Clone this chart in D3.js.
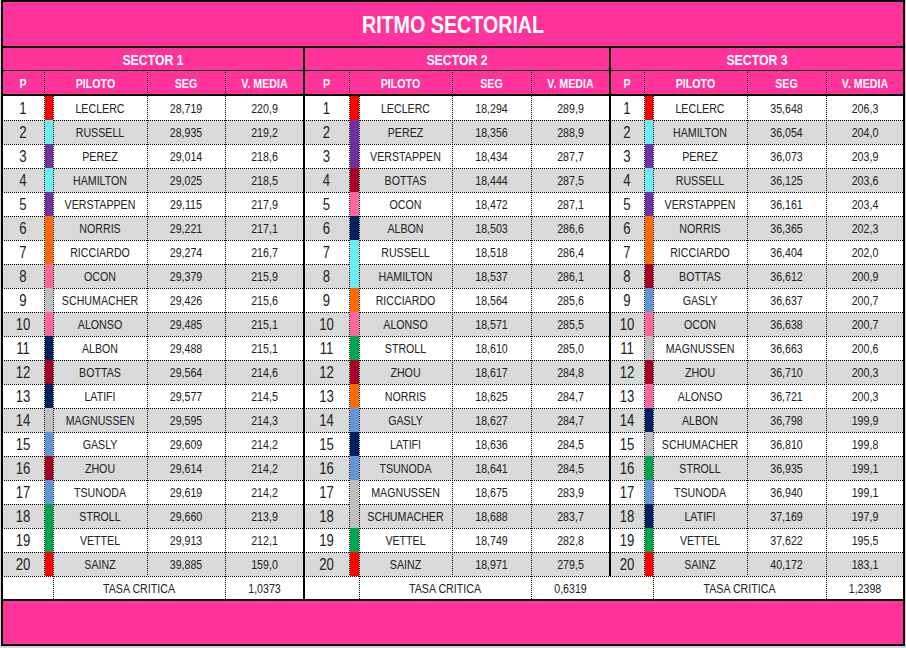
<!DOCTYPE html>
<html>
<head>
<meta charset="utf-8">
<script src="https://cdn.jsdelivr.net/npm/d3@7"></script>
<style>
  body { margin: 0; background: #d4d4d4; }
  svg { display: block; font-family: "Liberation Sans", Arial, sans-serif; }
</style>
</head>
<body>
<script>
const title = "RITMO SECTORIAL";
const sectors = ["SECTOR 1", "SECTOR 2", "SECTOR 3"];
const headers = ["P", "PILOTO", "SEG", "V. MEDIA"];
const tasaLabel = "TASA CRITICA";

const s1Drivers = ["LECLERC", "RUSSELL", "PEREZ", "HAMILTON", "VERSTAPPEN", "NORRIS", "RICCIARDO", "OCON", "SCHUMACHER", "ALONSO",
  "ALBON", "BOTTAS", "LATIFI", "MAGNUSSEN", "GASLY", "ZHOU", "TSUNODA", "STROLL", "VETTEL", "SAINZ"];
const s1Times = [28.719, 28.935, 29.014, 29.025, 29.115, 29.221, 29.274, 29.379, 29.426, 29.485,
  29.488, 29.564, 29.577, 29.595, 29.609, 29.614, 29.619, 29.660, 29.913, 39.885];
const s1Speeds = [220.9, 219.2, 218.6, 218.5, 217.9, 217.1, 216.7, 215.9, 215.6, 215.1,
  215.1, 214.6, 214.5, 214.3, 214.2, 214.2, 214.2, 213.9, 212.1, 159.0];

const s2Drivers = ["LECLERC", "PEREZ", "VERSTAPPEN", "BOTTAS", "OCON", "ALBON", "RUSSELL", "HAMILTON", "RICCIARDO", "ALONSO",
  "STROLL", "ZHOU", "NORRIS", "GASLY", "LATIFI", "TSUNODA", "MAGNUSSEN", "SCHUMACHER", "VETTEL", "SAINZ"];
const s2Times = [18.294, 18.356, 18.434, 18.444, 18.472, 18.503, 18.518, 18.537, 18.564, 18.571,
  18.610, 18.617, 18.625, 18.627, 18.636, 18.641, 18.675, 18.688, 18.749, 18.971];
const s2Speeds = [289.9, 288.9, 287.7, 287.5, 287.1, 286.6, 286.4, 286.1, 285.6, 285.5,
  285.0, 284.8, 284.7, 284.7, 284.5, 284.5, 283.9, 283.7, 282.8, 279.5];

const s3Drivers = ["LECLERC", "HAMILTON", "PEREZ", "RUSSELL", "VERSTAPPEN", "NORRIS", "RICCIARDO", "BOTTAS", "GASLY", "OCON",
  "MAGNUSSEN", "ZHOU", "ALONSO", "ALBON", "SCHUMACHER", "STROLL", "TSUNODA", "LATIFI", "VETTEL", "SAINZ"];
const s3Times = [35.648, 36.054, 36.073, 36.125, 36.161, 36.365, 36.404, 36.612, 36.637, 36.638,
  36.663, 36.710, 36.721, 36.798, 36.810, 36.935, 36.940, 37.169, 37.622, 40.172];
const s3Speeds = [206.3, 204.0, 203.9, 203.6, 203.4, 202.3, 202.0, 200.9, 200.7, 200.7,
  200.6, 200.3, 200.3, 199.9, 199.8, 199.1, 199.1, 197.9, 195.5, 183.1];

const tasaCritica = [1.0373, 0.6319, 1.2398];

const driverNames = ["LECLERC", "SAINZ", "RUSSELL", "HAMILTON", "PEREZ", "VERSTAPPEN", "NORRIS", "RICCIARDO", "OCON", "ALONSO",
  "SCHUMACHER", "MAGNUSSEN", "ALBON", "LATIFI", "BOTTAS", "ZHOU", "GASLY", "TSUNODA", "STROLL", "VETTEL"];
const driverColors = ["#ff0000", "#ff0000", "#66eef2", "#66eef2", "#7030a0", "#7030a0", "#ff6a00", "#ff6a00", "#ff6699", "#ff6699",
  "#bfbfbf", "#bfbfbf", "#002060", "#002060", "#a50027", "#a50027", "#5f97d6", "#5f97d6", "#00a550", "#00a550"];

const sectionData = [
  { drivers: s1Drivers, times: s1Times, speeds: s1Speeds },
  { drivers: s2Drivers, times: s2Times, speeds: s2Speeds },
  { drivers: s3Drivers, times: s3Times, speeds: s3Speeds }
];

// layout
const W = 906, H = 648;
const PINK = "#ff3399", GRAY = "#d9d9d9", TEXT = "#222";
const NARROW = 0.82; // squeeze Liberation Sans to look like Arial Narrow
const left = 2, right = 904;
// column edges per section: start, bar start, bar end, piloto end, seg end, end
const colEdges = [
  [2, 44, 53, 147, 225, 304],
  [304, 349, 359, 452, 531, 610],
  [610, 644, 653, 747, 826, 904]
];
const titleTop = 1, titleBottom = 47, sectorBottom = 71, headerBottom = 95, tableBottom = 600, bottom = 645;

const locale = d3.formatLocale({ decimal: ",", thousands: ".", grouping: [3], currency: ["", ""] });
const fmtTime = locale.format(".3f");
const fmtSpeed = locale.format(".1f");
const fmtTasa = locale.format(".4f");

const color = d3.scaleOrdinal().domain(driverNames).range(driverColors);
const positions = d3.range(1, 21);
const y = d3.scaleBand().domain(d3.range(1, 22)).range([headerBottom + 1, tableBottom]);

const svg = d3.select("body").append("svg")
  .attr("width", W)
  .attr("height", H);

const place = (x, yy) => `translate(${x},${yy}) scale(${NARROW},1)`;

// pink bands
[[titleTop, titleBottom], [titleBottom, headerBottom], [tableBottom, bottom]].forEach(([a, b]) => {
  svg.append("rect").attr("x", left).attr("y", a).attr("width", right - left).attr("height", b - a).attr("fill", PINK);
});

// row backgrounds
svg.selectAll(".row-bg")
  .data(d3.range(1, 22))
  .join("rect")
  .attr("class", "row-bg")
  .attr("x", left)
  .attr("y", d => y(d))
  .attr("width", right - left)
  .attr("height", y.bandwidth())
  .attr("fill", d => (d <= 20 && d % 2 === 0) ? GRAY : "#fff");

const dotted = g => g.attr("stroke", "#000").attr("stroke-width", 1).attr("stroke-dasharray", "1,1").attr("fill", "none");

// horizontal dotted lines between rows
svg.selectAll(".hline")
  .data(d3.range(2, 22))
  .join("line")
  .attr("class", "hline")
  .attr("x1", left).attr("x2", right)
  .attr("y1", d => y(d) + 0.5).attr("y2", d => y(d) + 0.5)
  .call(dotted);

colEdges.forEach((e, si) => {
  const g = svg.append("g");
  const rowsTop = y(1), rows20 = y(20) + y.bandwidth();

  // header dotted separators
  [e[1], e[3], e[4]].forEach(x => {
    g.append("line").attr("x1", x + 0.5).attr("x2", x + 0.5).attr("y1", sectorBottom + 1).attr("y2", headerBottom - 1).call(dotted);
  });
  // body dotted separators
  [[e[1], rows20], [e[2], tableBottom], [e[3], rows20], [e[4], tableBottom]].forEach(([x, yb]) => {
    g.append("line").attr("x1", x + 0.5).attr("x2", x + 0.5).attr("y1", rowsTop).attr("y2", yb).call(dotted);
  });

  const sd = sectionData[si];
  // team colour bars
  g.selectAll(".bar")
    .data(positions)
    .join("rect")
    .attr("class", "bar")
    .attr("x", e[1] + 1)
    .attr("y", d => y(d))
    .attr("width", e[2] - e[1] - 1)
    .attr("height", y.bandwidth())
    .attr("fill", d => color(sd.drivers[d - 1]));

  const cx = (a, b) => (a + b) / 2;
  const cy = d => y(d) + y.bandwidth() / 2;

  // sector title
  g.append("text")
    .attr("transform", place(cx(e[0], e[5]), (titleBottom + sectorBottom) / 2 + 1))
    .attr("dy", "0.35em").attr("text-anchor", "middle")
    .attr("fill", "#fff").attr("font-weight", "bold").attr("font-size", 15)
    .text(sectors[si]);

  // column headers
  const hx = [cx(e[0], e[1]), cx(e[1], e[3]), cx(e[3], e[4]), cx(e[4], e[5])];
  headers.forEach((h, i) => {
    g.append("text")
      .attr("transform", place(hx[i], (sectorBottom + headerBottom) / 2))
      .attr("dy", "0.35em").attr("text-anchor", "middle")
      .attr("fill", "#fff").attr("font-weight", "bold").attr("font-size", 13)
      .text(h);
  });

  // rows
  const rowG = g.selectAll(".row")
    .data(positions)
    .join("g")
    .attr("class", "row")
    .attr("fill", TEXT)
    .attr("text-anchor", "middle");

  rowG.append("text")
    .attr("transform", d => place(cx(e[0], e[1]), cy(d))).attr("dy", "0.36em")
    .attr("font-size", 16)
    .text(d => d);
  rowG.append("text")
    .attr("transform", d => place(cx(e[2], e[3]), cy(d))).attr("dy", "0.36em")
    .attr("font-size", 13)
    .text(d => sd.drivers[d - 1]);
  rowG.append("text")
    .attr("transform", d => place(cx(e[3], e[4]), cy(d))).attr("dy", "0.36em")
    .attr("font-size", 13)
    .text(d => fmtTime(sd.times[d - 1]));
  rowG.append("text")
    .attr("transform", d => place(cx(e[4], e[5]), cy(d))).attr("dy", "0.36em")
    .attr("font-size", 13)
    .text(d => fmtSpeed(sd.speeds[d - 1]));

  // tasa critica row
  g.append("text")
    .attr("transform", place(cx(e[2], e[4]), cy(21))).attr("dy", "0.36em")
    .attr("text-anchor", "middle").attr("fill", TEXT).attr("font-size", 13)
    .text(tasaLabel);
  g.append("text")
    .attr("transform", place(cx(e[4], e[5]), cy(21))).attr("dy", "0.36em")
    .attr("text-anchor", "middle").attr("fill", TEXT).attr("font-size", 13)
    .text(fmtTasa(tasaCritica[si]));
});

// title
svg.append("text")
  .attr("transform", place((left + right) / 2, (titleTop + titleBottom) / 2 + 1))
  .attr("dy", "0.35em").attr("text-anchor", "middle")
  .attr("fill", "#fff").attr("font-weight", "bold").attr("font-size", 24)
  .text(title);

// solid rules
const solid = (x1, y1, x2, y2, w) => svg.append("line")
  .attr("x1", x1).attr("y1", y1).attr("x2", x2).attr("y2", y2)
  .attr("stroke", "#000").attr("stroke-width", w);

solid(left, titleBottom, right, titleBottom, 2);
solid(left, sectorBottom - 0.5, right, sectorBottom - 0.5, 1);
solid(left, headerBottom, right, headerBottom, 2);
solid(left, tableBottom, right, tableBottom, 2);
solid(colEdges[1][0], titleBottom, colEdges[1][0], tableBottom, 2);
solid(colEdges[2][0], titleBottom, colEdges[2][0], y(20) + y.bandwidth(), 2);

svg.append("rect")
  .attr("x", left).attr("y", titleTop)
  .attr("width", right - left).attr("height", bottom - titleTop)
  .attr("fill", "none").attr("stroke", "#000").attr("stroke-width", 2);
</script>
</body>
</html>
